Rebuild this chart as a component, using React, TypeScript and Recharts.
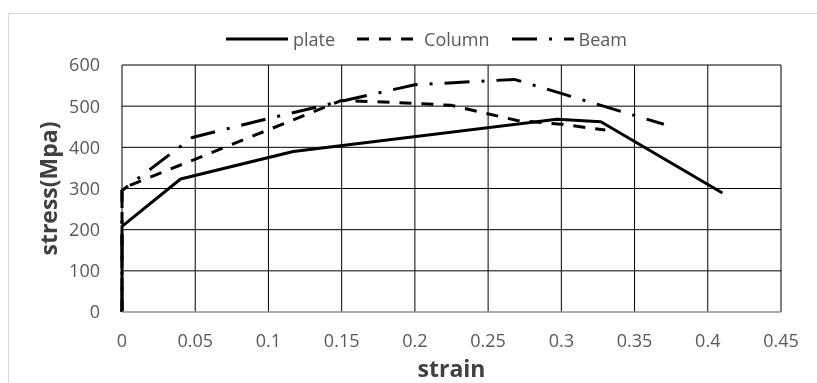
import { LineChart, Line, XAxis, YAxis, CartesianGrid, Legend } from 'recharts'

// strain / stress pairs
const plateStrain = [0, 0, 0.04, 0.117, 0.297, 0.327, 0.41]
const plateStress = [0, 208, 323, 390, 468, 462, 289]

const columnStrain = [0, 0, 0.15, 0.2, 0.225, 0.27, 0.3, 0.33]
const columnStress = [0, 300, 514, 507, 502, 465, 456, 442]

const beamStrain = [0, 0, 0.048, 0.1, 0.15, 0.2, 0.268, 0.37]
const beamStress = [0, 295, 424, 470, 512, 552, 565, 456]

const xTicks = [0, 0.05, 0.1, 0.15, 0.2, 0.25, 0.3, 0.35, 0.4, 0.45]
const yTicks = [0, 100, 200, 300, 400, 500, 600]

const toPoints = (xs: number[], ys: number[]) => xs.map((x, i) => ({ x, y: ys[i] }))

const plateData = toPoints(plateStrain, plateStress)
const columnData = toPoints(columnStrain, columnStress)
const beamData = toPoints(beamStrain, beamStress)

const FONT = '"Open Sans", sans-serif'

const series = [
  { name: 'plate', data: plateData, dash: undefined },
  { name: 'Column', data: columnData, dash: '12 10' },
  { name: 'Beam', data: beamData, dash: '25 12 3 12' },
]

const LegendContent = () => (
  <div style={{ display: 'flex', alignItems: 'center', fontFamily: FONT, fontSize: 18, color: '#595959' }}>
    {series.map((s) => (
      <div key={s.name} style={{ display: 'flex', alignItems: 'center', marginRight: 22 }}>
        <svg width={62} height={10}>
          <line x1={0} y1={5} x2={62} y2={5} stroke="#000" strokeWidth={3} strokeDasharray={s.dash} />
        </svg>
        <span style={{ marginLeft: 5, lineHeight: '24px' }}>{s.name}</span>
      </div>
    ))}
  </div>
)

const YTitle = ({ viewBox }: any) => {
  const cy = viewBox.y + viewBox.height / 2
  return (
    <text
      x={40}
      y={cy}
      transform={`rotate(-90 40 ${cy})`}
      textAnchor="middle"
      dominantBaseline="central"
      fontFamily={FONT}
      fontWeight="bold"
      fontSize={23}
      fill="#404040"
    >
      stress(Mpa)
    </text>
  )
}

const XTitle = ({ viewBox }: any) => (
  <text
    x={viewBox.x + viewBox.width / 2}
    y={viewBox.y + 65}
    textAnchor="middle"
    fontFamily={FONT}
    fontWeight="bold"
    fontSize={23}
    fill="#404040"
  >
    strain
  </text>
)

export default function App() {
  return (
    <div style={{ position: 'fixed', left: 8, top: 8, width: 809, height: 375, overflow: 'hidden' }}>
      <div
        style={{
          position: 'absolute',
          left: 0,
          top: 5,
          width: 900,
          height: 500,
          border: '1px solid #d9d9d9',
          boxSizing: 'border-box',
        }}
      />
      <LineChart width={809} height={375} margin={{ top: 57, right: 36, bottom: 0, left: 0 }}>
        <CartesianGrid stroke="#000" strokeWidth={1} />
        <XAxis
          type="number"
          dataKey="x"
          domain={[0, 0.45]}
          ticks={xTicks}
          tickFormatter={(v: number) => String(v)}
          height={71}
          tickLine={false}
          tickSize={0}
          tickMargin={22}
          axisLine={{ stroke: '#d9d9d9' }}
          tick={{ fill: '#595959', fontFamily: FONT, fontSize: 18 }}
          label={XTitle}
        />
        <YAxis
          type="number"
          dataKey="y"
          domain={[0, 600]}
          ticks={yTicks}
          width={114}
          tickLine={false}
          tickSize={0}
          tickMargin={22}
          axisLine={false}
          tick={{ fill: '#595959', fontFamily: FONT, fontSize: 18 }}
          label={YTitle}
        />
        <Legend
          layout="horizontal"
          verticalAlign="middle"
          align="center"
          content={LegendContent}
          wrapperStyle={{ top: 19, left: 218, width: 'auto' }}
        />
        {series.map((s) => (
          <Line
            key={s.name}
            data={s.data}
            dataKey="y"
            name={s.name}
            type="linear"
            stroke="#000"
            strokeWidth={3}
            strokeDasharray={s.dash}
            strokeLinejoin="round"
            dot={false}
            activeDot={false}
            isAnimationActive={false}
          />
        ))}
      </LineChart>
    </div>
  )
}
